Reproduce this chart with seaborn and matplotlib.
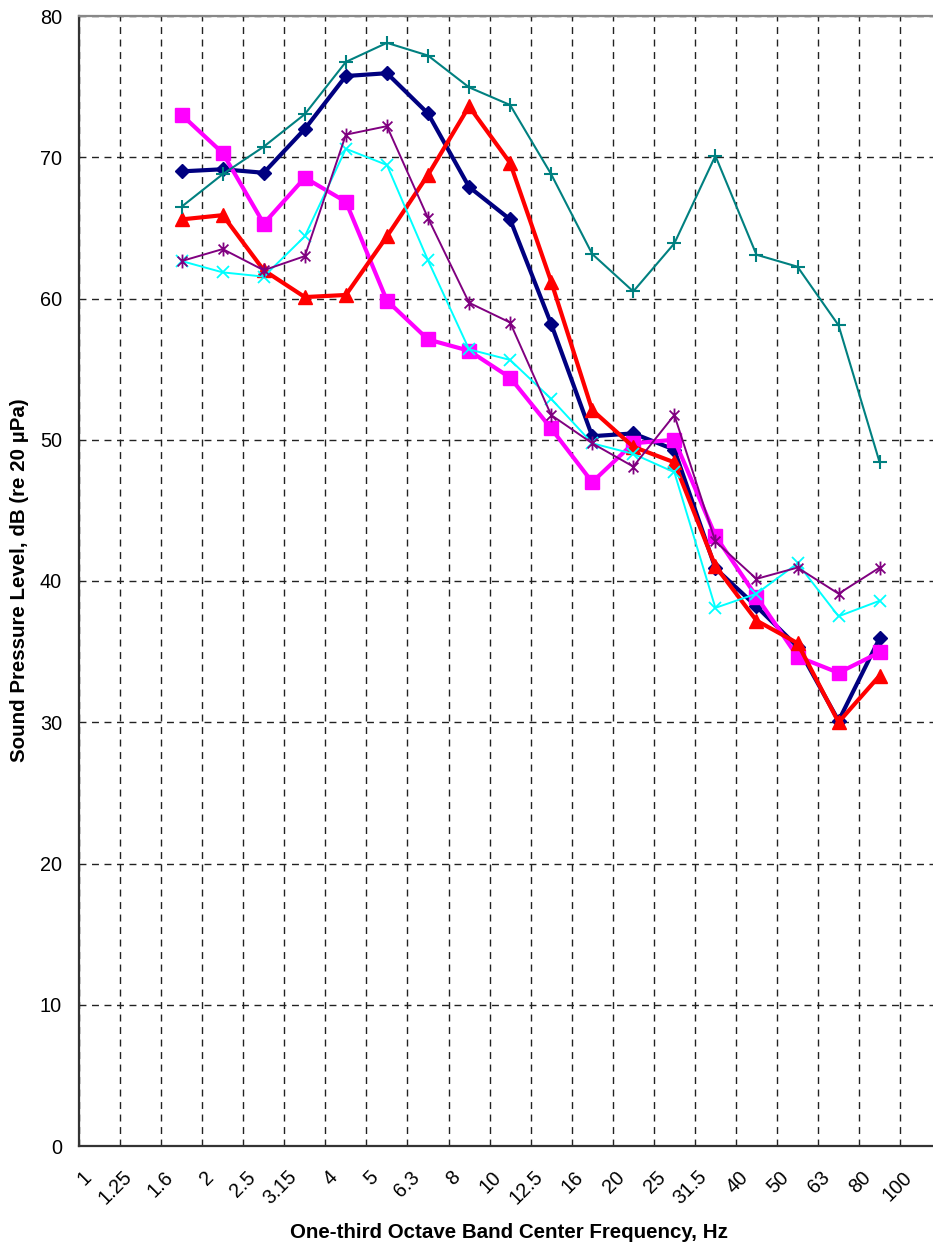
import numpy as np
import pandas as pd
import matplotlib
matplotlib.use("Agg")
import matplotlib.pyplot as plt
from matplotlib.path import Path
from matplotlib.transforms import ScaledTranslation
import seaborn as sns

# One-third octave band centre frequencies (Hz) used as axis labels
bands = ["1", "1.25", "1.6", "2", "2.5", "3.15", "4", "5", "6.3", "8",
         "10", "12.5", "16", "20", "25", "31.5", "40", "50", "63", "80", "100"]
# Measurements begin in the interval that follows this band label
first_band = "1.6"

# Sound pressure levels, dB re 20 µPa, one value per band interval
spl_navy = [69.0, 69.15, 68.9, 72.0, 75.75, 75.95, 73.1, 67.9, 65.6, 58.2,
            50.25, 50.45, 49.3, 40.9, 38.2, 35.35, 30.1, 35.95]
spl_magenta = [73.0, 70.3, 65.3, 68.55, 66.85, 59.85, 57.1, 56.3, 54.4, 50.8,
               47.0, 49.75, 50.0, 43.2, 38.9, 34.65, 33.5, 34.95]
spl_red = [65.6, 65.9, 62.0, 60.1, 60.25, 64.4, 68.75, 73.6, 69.6, 61.2,
           52.1, 49.5, 48.4, 41.05, 37.2, 35.6, 30.0, 33.3]
spl_cyan = [62.65, 61.85, 61.55, 64.4, 70.6, 69.45, 62.7, 56.4, 55.65, 52.9,
            49.75, 49.0, 47.7, 38.1, 39.1, 41.25, 37.5, 38.6]
spl_purple = [62.65, 63.5, 62.0, 63.0, 71.6, 72.2, 65.7, 59.7, 58.3, 51.75,
              49.75, 48.1, 51.75, 42.8, 40.15, 40.95, 39.1, 40.95]
spl_teal = [66.5, 68.8, 70.75, 73.05, 76.75, 78.1, 77.2, 74.95, 73.7, 68.8,
            63.15, 60.5, 63.9, 70.1, 63.1, 62.25, 58.1, 48.4]

y_ticks = [0, 10, 20, 30, 40, 50, 60, 70, 80]

sns.set_style("white")
plt.rcParams["font.family"] = ["Liberation Sans", "DejaVu Sans"]

# Asterisk marker: an X crossed by a vertical stroke
d = 0.7071
star_marker = Path(
    [(0, -1), (0, 1), (-d, -d), (d, d), (-d, d), (d, -d)],
    [Path.MOVETO, Path.LINETO, Path.MOVETO, Path.LINETO, Path.MOVETO, Path.LINETO],
)

fig = plt.figure(figsize=(9.33, 12.45), dpi=100)
ax = fig.add_axes([79 / 933, 1 - 1146 / 1245, 1 - 79 / 933, (1146 - 16) / 1245])

# band intervals: centred between consecutive band labels
start = bands.index(first_band)
x_pos = np.arange(len(spl_navy)) + start + 0.5

styles = [
    (spl_navy, "#000080", "D", 7.6, 3.0, 1.0),
    (spl_magenta, "#FF00FF", "s", 10.5, 3.0, 1.0),
    (spl_red, "#FF0000", "^", 10.5, 3.0, 1.0),
    (spl_cyan, "#00FFFF", "x", 9.0, 1.4, 1.3),
    (spl_purple, "#800080", star_marker, 10.0, 1.4, 1.3),
    (spl_teal, "#008080", "+", 10.5, 1.5, 1.5),
]
for z, (vals, col, mk, ms, lw, mew) in enumerate(styles):
    df = pd.DataFrame({"x": x_pos, "y": vals})
    sns.lineplot(data=df, x="x", y="y", ax=ax, color=col, marker=mk,
                 markersize=ms, linewidth=lw, markeredgecolor=col,
                 markerfacecolor=col, markeredgewidth=mew, zorder=3 + z)

ax.set_xlim(0, 20.8)
ax.set_ylim(0, 80)
ax.set_yticks(y_ticks)
ax.set_yticklabels([str(v) for v in y_ticks], fontsize=14.3)
ax.set_xticks(np.arange(len(bands)))
ax.set_xticklabels(bands, fontsize=14.3, rotation=45, ha="right", va="center",
                   rotation_mode="anchor")

ax.tick_params(axis="y", direction="out", length=4.3, width=1.3, pad=8,
               color="#333333", labelcolor="black")
ax.tick_params(axis="x", direction="out", length=4.3, width=1.3, pad=16,
               color="#333333", labelcolor="black")
shift = ScaledTranslation(0.09, 0, fig.dpi_scale_trans)
for lab in ax.get_xticklabels():
    lab.set_transform(lab.get_transform() + shift)

ax.grid(True, axis="both", color="#222222", linewidth=1.0,
        linestyle=(0, (5, 4)), zorder=1)
ax.set_axisbelow(True)

for side in ["left", "bottom"]:
    ax.spines[side].set_color("#333333")
    ax.spines[side].set_linewidth(1.6)
ax.spines["top"].set_color("#888888")
ax.spines["top"].set_linewidth(1.6)
ax.spines["right"].set_visible(False)

ax.set_xlabel("One-third Octave Band Center Frequency, Hz",
              fontsize=14.8, fontweight="bold", color="black")
ax.set_ylabel("Sound Pressure Level, dB (re 20 µPa)",
              fontsize=14.8, fontweight="bold", color="black")
ax.xaxis.set_label_coords((509 - 79) / 854, -(1232 - 1146) / 1130)
ax.xaxis.label.set_verticalalignment("center")
ax.yaxis.set_label_coords((20 - 79) / 854, (1146 - 580) / 1130)
ax.yaxis.label.set_verticalalignment("center")

fig.savefig("out.png", dpi=100)
